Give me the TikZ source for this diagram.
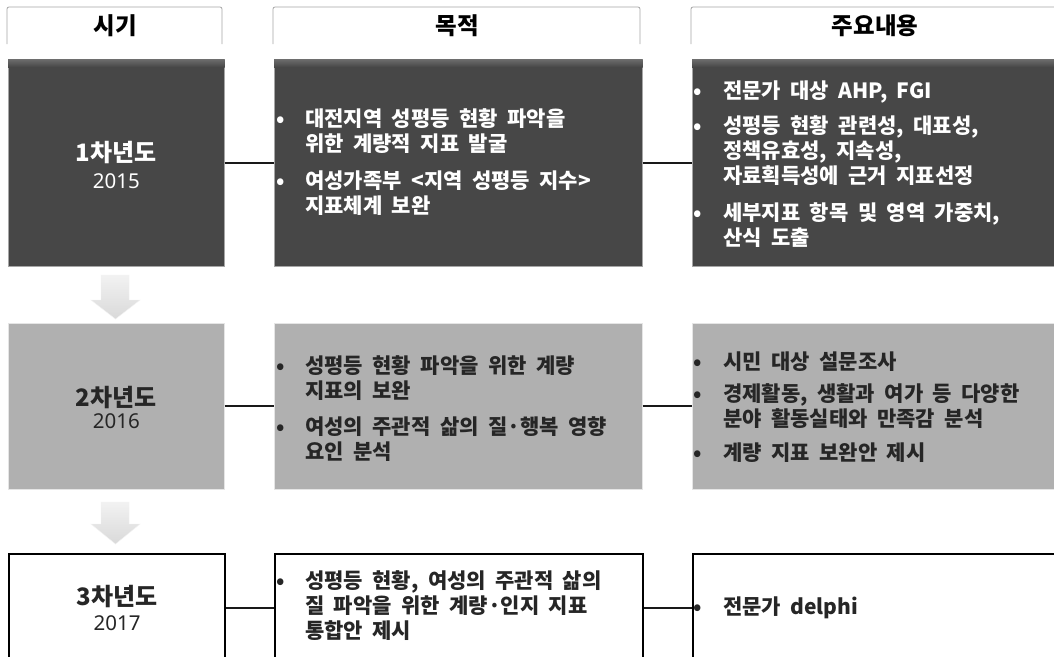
\documentclass[tikz,border=0pt]{standalone}
\usepackage{fontspec}
\setmainfont{Noto Sans CJK KR}
\newfontfamily\yrfont{Noto Sans}
\usetikzlibrary{calc}
\definecolor{dk}{HTML}{474747}
\definecolor{dkl}{HTML}{6E6E6E}
\definecolor{md}{HTML}{B0B0B0}
\definecolor{txtdk}{HTML}{262626}
\definecolor{hdrgray}{HTML}{A6A6A6}
\definecolor{arrtop}{HTML}{F2F2F2}
\definecolor{arrbot}{HTML}{D9D9D9}
\newcommand{\bodyfont}{\fontsize{21}{25}\selectfont\bfseries\spaceskip=0.45em plus 0.1em minus 0.05em\relax}
\newcommand{\bul}{\textbullet}
\begin{document}
\begin{tikzpicture}[x=1pt,y=-1pt,
  box/.style={rectangle, inner sep=0pt, anchor=north west},
  darkbox/.style={box, fill=dk, draw=gray!70, line width=0.6pt},
  midbox/.style={box, fill=md, draw=gray!20, line width=0.6pt},
  whitebox/.style={box, fill=white, draw=black, line width=2.4pt},
  conn/.style={draw=black!90, line width=2pt},
  hdrtext/.style={font=\fontsize{23.5}{27}\selectfont\bfseries, text=black, inner sep=0pt},
  hdrline/.style={draw=hdrgray, line width=0.8pt, rounded corners=2pt},
  titletext/.style={inner sep=0pt, font=\fontsize{24}{28}\selectfont\bfseries},
  yeartext/.style={inner sep=0pt, font=\yrfont\fontsize{20.5}{24}\selectfont},
  bodytext/.style={inner sep=0pt, anchor=base west, font=\bodyfont},
  blockarrow/.style={top color=arrtop, bottom color=arrbot, draw=white!90!gray, line width=0.4pt}
]
\useasboundingbox (0,0) rectangle (1054,656);
\fill[white] (0,0) rectangle (1054,656);
\begin{scope}
\clip (0,0) rectangle (1054,656);
% headers
\draw[hdrline] (7,44) -- (7,7) -- (222,7) -- (222,44);
\draw[hdrline] (273,44) -- (273,7) -- (640,7) -- (640,44);
\draw[hdrline] (691,44) -- (691,7) -- (1062,7) -- (1062,44);
\node[hdrtext] (h1) at (115,26) {시기};
\node[hdrtext] (h2) at (457,26) {목적};
\node[hdrtext] (h3) at (875,26) {주요내용};

% row 1
\node[darkbox, minimum width=216, minimum height=207] (y1) at (8,59) {};
\node[darkbox, minimum width=368, minimum height=207] (p1) at (274,59) {};
\node[darkbox, minimum width=370, minimum height=207] (c1) at (692,59) {};
\foreach \b in {y1,p1,c1}{
  \shade[top color=dkl, bottom color=dk] (\b.north west) rectangle ($(\b.north east)+(0,8)$);
}
% row 2
\node[midbox, minimum width=216, minimum height=166] (y2) at (8,323) {};
\node[midbox, minimum width=368, minimum height=166] (p2) at (274,323) {};
\node[midbox, minimum width=370, minimum height=166] (c2) at (692,323) {};
% row 3
\node[whitebox, minimum width=216, minimum height=108] (y3) at (8,553) {};
\node[whitebox, minimum width=368, minimum height=108] (p3) at (274,553) {};
\node[whitebox, minimum width=370, minimum height=108] (c3) at (692,553) {};

% connectors
\draw[conn] (y1.east) -- (p1.west);
\draw[conn] (p1.east) -- (c1.west);
\draw[conn] (y2.east) -- (p2.west);
\draw[conn] (p2.east) -- (c2.west);
\draw[conn] (y3.east) -- (p3.west);
\draw[conn] (p3.east) -- (c3.west);

% block arrows
\path[blockarrow] (101,275) -- (129,275) -- (129,300) -- (140,300) -- (115.5,319) -- (91,300) -- (101,300) -- cycle;
\path[blockarrow] (101,502) -- (129,502) -- (129,524) -- (140,524) -- (115.5,544) -- (91,524) -- (101,524) -- cycle;

% year labels
\node[titletext, text=white] (l1) at ($(y1.center)+(0,-10)$) {1차년도};
\node[yeartext, text=white] (n1) at ($(y1.center)+(0,18)$) {2015};
\node[titletext, text=txtdk] (l2) at ($(y2.center)+(0,-9)$) {2차년도};
\node[yeartext, text=txtdk] (n2) at ($(y2.center)+(0,15)$) {2016};
\node[titletext, text=txtdk] (l3) at ($(y3.center)+(0,-12)$) {3차년도};
\node[yeartext, text=txtdk] (n3) at ($(y3.center)+(0,15)$) {2017};

% body texts
\node[bodytext, text=white] (t1p) at (276,126) {\begin{tabular}[t]{@{}p{29pt}@{}l@{}}
\bul & 대전지역 성평등 현황 파악을\\
     & 위한 계량적 지표 발굴\\[12pt]
\bul & 여성가족부 <지역 성평등 지수>\\
     & 지표체계 보완
\end{tabular}};
\node[bodytext, text=white] (t1c) at (693,98) {\begin{tabular}[t]{@{}p{30pt}@{}l@{}}
\bul & 전문가 대상 AHP, FGI\\[10pt]
\bul & 성평등 현황 관련성, 대표성,\\
     & 정책유효성, 지속성,\\
     & 자료획득성에 근거 지표선정\\[11pt]
\bul & 세부지표 항목 및 영역 가중치,\\
     & 산식 도출
\end{tabular}};
\node[bodytext, text=txtdk] (t2p) at (276,373) {\begin{tabular}[t]{@{}p{29pt}@{}l@{}}
\bul & 성평등 현황 파악을 위한 계량\\
     & 지표의 보완\\[11pt]
\bul & 여성의 주관적 삶의 질·행복 영향\\
     & 요인 분석
\end{tabular}};
\node[bodytext, text=txtdk] (t2c) at (693,369) {\begin{tabular}[t]{@{}p{30pt}@{}l@{}}
\bul & 시민 대상 설문조사\\[7pt]
\bul & 경제활동, 생활과 여가 등 다양한\\
     & 분야 활동실태와 만족감 분석\\[9pt]
\bul & 계량 지표 보완안 제시
\end{tabular}};
\node[bodytext, text=txtdk] (t3p) at (276,588) {\begin{tabular}[t]{@{}p{29pt}@{}l@{}}
\bul & 성평등 현황, 여성의 주관적 삶의\\
     & 질 파악을 위한 계량·인지 지표\\
     & 통합안 제시
\end{tabular}};
\node[bodytext, text=txtdk] (t3c) at (693,614) {\begin{tabular}[t]{@{}p{30pt}@{}l@{}}
\bul & 전문가 delphi
\end{tabular}};
\end{scope}
\end{tikzpicture}
\end{document}
